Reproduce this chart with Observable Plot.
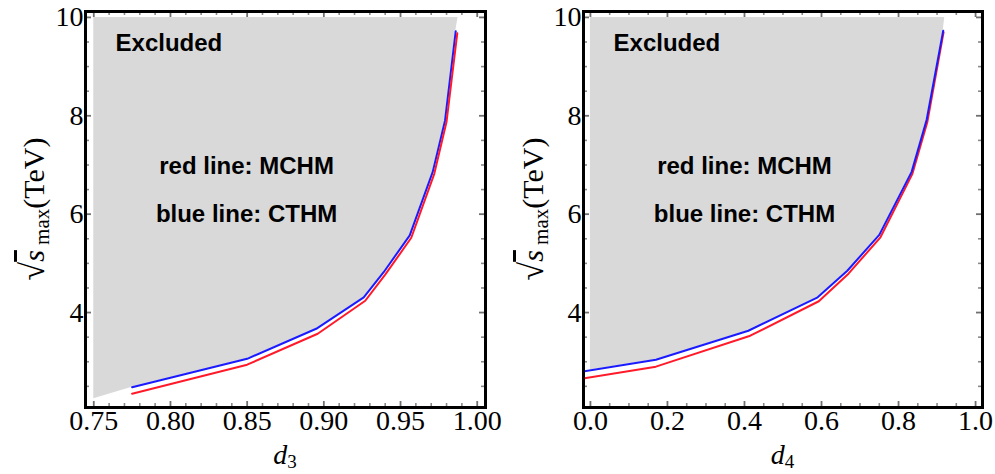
<!DOCTYPE html>
<html>
<head>
<meta charset="utf-8">
<script src="https://cdn.jsdelivr.net/npm/d3@7"></script>
<script src="https://cdn.jsdelivr.net/npm/@observablehq/plot@0.6"></script>
<style>
  html, body { margin: 0; padding: 0; background: #fff; }
  #wrap { display: flex; width: 995px; height: 474px; }
  #wrap svg { overflow: visible; background: transparent; }
</style>
</head>
<body>
<div id="wrap"></div>
<script>
// ---------- Left panel (d3) ----------
const d3Blue  = [0.775, 0.850, 0.895, 0.926, 0.939, 0.956, 0.971, 0.979, 0.986];
const sBlueL  = [2.48, 3.06, 3.67, 4.31, 4.82, 5.57, 6.86, 7.90, 9.72];
const d3Red   = [0.775, 0.850, 0.896, 0.927, 0.940, 0.957, 0.972, 0.980, 0.987];
const sRedL   = [2.35, 2.94, 3.57, 4.24, 4.77, 5.52, 6.82, 7.88, 9.68];
const d3Excl  = [0.750, 0.775, 0.850, 0.895, 0.926, 0.939, 0.956, 0.971, 0.979, 0.986, 0.9875];
const sExclL  = [2.25, 2.48, 3.06, 3.67, 4.31, 4.82, 5.57, 6.86, 7.90, 9.72, 10];
const d3Ticks = [0.75, 0.80, 0.85, 0.90, 0.95, 1.00];

// ---------- Right panel (d4) ----------
const d4Blue  = [-0.02, 0.170, 0.410, 0.590, 0.667, 0.750, 0.834, 0.873, 0.916];
const sBlueR  = [2.80, 3.04, 3.63, 4.31, 4.85, 5.58, 6.86, 7.92, 9.73];
const d4Red   = [-0.02, 0.170, 0.415, 0.593, 0.670, 0.753, 0.836, 0.875, 0.917];
const sRedR   = [2.66, 2.90, 3.53, 4.23, 4.79, 5.53, 6.82, 7.88, 9.70];
const d4Excl  = [0.000, 0.170, 0.410, 0.590, 0.667, 0.750, 0.834, 0.873, 0.916, 0.920];
const sExclR  = [2.83, 3.04, 3.63, 4.31, 4.85, 5.58, 6.86, 7.92, 9.73, 10];
const d4Ticks = [0.0, 0.2, 0.4, 0.6, 0.8, 1.0];

const yTicks = [4, 6, 8, 10];
const labels = ["Excluded", "red line: MCHM", "blue line: CTHM"];

const zip = (xs, ys) => xs.map((x, i) => ({x, y: ys[i]}));
const serif = "'Liberation Serif', 'Times New Roman', serif";
const sans = "'Liberation Sans', Arial, sans-serif";
const yDomain = [2.07, 10.12];

// Mathematica-style inward frame ticks, drawn as zero-length rules extended by negative insets
function inwardTicks(xDomain, xt, yt, size, stroke, sw) {
  const [xa, xb] = xDomain, [ya, yb] = yDomain;
  const c = {stroke, strokeWidth: sw};
  return [
    Plot.ruleX(xt, {...c, x: d => d, y1: ya, y2: ya, insetTop: -size}),
    Plot.ruleX(xt, {...c, x: d => d, y1: yb, y2: yb, insetBottom: -size}),
    Plot.ruleY(yt, {...c, y: d => d, x1: xa, x2: xa, insetRight: -size}),
    Plot.ruleY(yt, {...c, y: d => d, x1: xb, x2: xb, insetLeft: -size})
  ];
}

function panel(o) {
  const red = Plot.line(zip(o.rx, o.ry), {x: "x", y: "y", stroke: "#ff1a2a", strokeWidth: 2, clip: true});
  const blue = Plot.line(zip(o.bx, o.by), {x: "x", y: "y", stroke: "#1a1aff", strokeWidth: 2, clip: true});
  const svg = Plot.plot({
    width: 497, height: 474,
    marginLeft: o.ml, marginRight: o.mr, marginTop: 11, marginBottom: 67,
    style: {fontFamily: serif, fontSize: "28px", color: "#000", background: "transparent", overflow: "visible"},
    x: {domain: o.xDomain},
    y: {domain: yDomain},
    marks: [
      Plot.areaY(zip(o.ex, o.ey), {x: "x", y1: "y", y2: 10, fill: "#d9d9d9"}),
      ...(o.redOnTop ? [blue, red] : [red, blue]),
      Plot.text([labels[0]], {x: [o.exclX], y: [9.47], textAnchor: "start", fontFamily: sans, fontWeight: "bold", fontSize: 24}),
      Plot.text([labels[1]], {x: [o.midX], y: [6.97], fontFamily: sans, fontWeight: "bold", fontSize: 24}),
      Plot.text([labels[2]], {x: [o.midX], y: [5.99], fontFamily: sans, fontWeight: "bold", fontSize: 24}),
      ...inwardTicks(o.xDomain, o.xMinor, d3.range(2.5, 10.01, 0.5).filter(v => !yTicks.includes(v)), 4, "#8a8a8a", 1.6),
      ...inwardTicks(o.xDomain, o.xMajor, yTicks, 6, "#707070", 1.8),
      Plot.axisX({anchor: "bottom", ticks: o.xMajor, tickSize: 0, tickPadding: 3, tickFormat: o.fmt, label: null, fontSize: 28, fontFamily: serif}),
      Plot.axisY({anchor: "left", ticks: yTicks, tickSize: 0, tickPadding: 2, tickFormat: d3.format("d"), label: null, fontSize: 28, fontFamily: serif}),
      Plot.frame({stroke: "#000", strokeWidth: 3})
    ]
  });
  const s = d3.select(svg);
  // y-axis title: √s_max(TeV)
  const yt = s.append("text")
    .attr("transform", `translate(${o.yLabelX},${(11 + 407) / 2}) rotate(-90)`)
    .attr("text-anchor", "middle")
    .attr("font-family", serif)
    .attr("font-size", 30)
    .attr("fill", "#000");
  yt.append("tspan").attr("font-size", 34).text("√");
  yt.append("tspan").attr("font-style", "italic").attr("text-decoration", "overline").text("s");
  yt.append("tspan").attr("font-size", 21).attr("dy", 5).text(" max");
  yt.append("tspan").attr("dy", -5).text("(TeV)");
  // x-axis title
  const xt = s.append("text")
    .attr("x", (o.ml + 497 - o.mr) / 2)
    .attr("y", 464)
    .attr("text-anchor", "middle")
    .attr("font-family", serif)
    .attr("font-size", 28)
    .attr("fill", "#000");
  xt.append("tspan").attr("font-style", "italic").text("d");
  xt.append("tspan").attr("font-size", 19).attr("dy", 4).text(o.sub);
  return svg;
}

const wrap = document.getElementById("wrap");
wrap.append(panel({
  xDomain: [0.7446, 1.0054], ml: 85, mr: 12,
  xMajor: d3Ticks, xMinor: d3.range(0.76, 1.0, 0.01).filter((v, i) => (i + 1) % 5 !== 0),
  fmt: d3.format(".2f"),
  bx: d3Blue, by: sBlueL, rx: d3Red, ry: sRedL, ex: d3Excl, ey: sExclL,
  exclX: 0.7642, midX: 0.8496, redOnTop: true, yLabelX: 44, sub: "3"
}));
wrap.append(panel({
  xDomain: [-0.018, 1.018], ml: 86, mr: 12,
  xMajor: d4Ticks, xMinor: d3.range(0.05, 1.0, 0.05).filter((v, i) => (i + 1) % 4 !== 0),
  fmt: d3.format(".1f"),
  bx: d4Blue, by: sBlueR, rx: d4Red, ry: sRedR, ex: d4Excl, ey: sExclR,
  exclX: 0.060, midX: 0.40, redOnTop: false, yLabelX: 46, sub: "4"
}));
</script>
</body>
</html>
